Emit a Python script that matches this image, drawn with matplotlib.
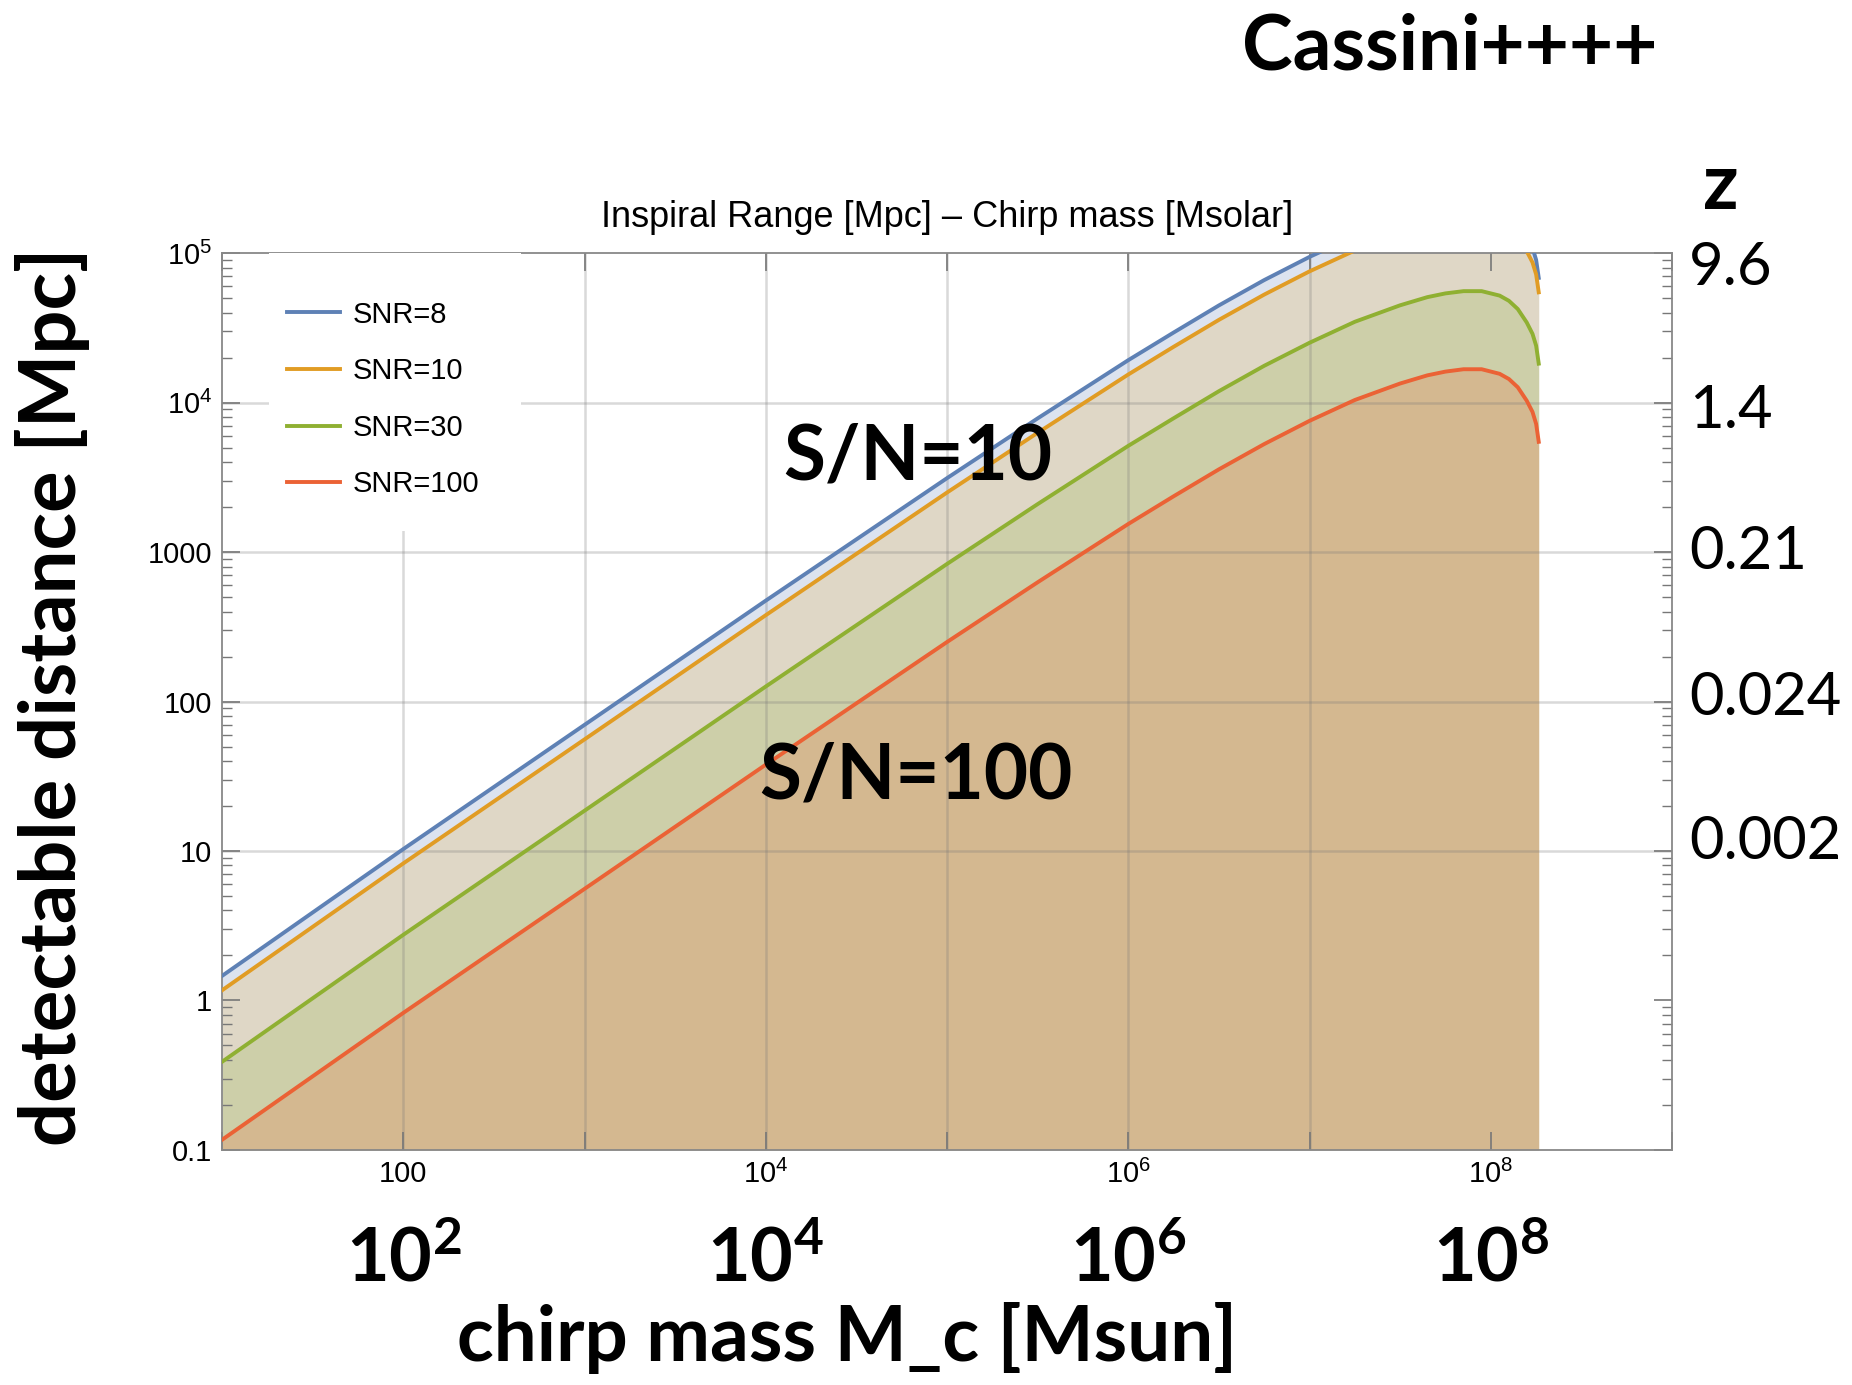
import numpy as np
import matplotlib
matplotlib.use('Agg')
import matplotlib.pyplot as plt
from matplotlib.patches import Rectangle

plt.rcParams['font.family'] = ['Liberation Sans', 'DejaVu Sans']
plt.rcParams['mathtext.fontset'] = 'custom'
plt.rcParams['mathtext.sf'] = 'Liberation Sans'
plt.rcParams['mathtext.bf'] = 'Lato:bold'

# chirp mass [Msun] and read-off inspiral range [Mpc] per SNR
mass = [10, 100, 1e3, 1e4, 1e5, 3.16e5, 1e6, 1.78e6, 3.16e6, 5.62e6, 1e7, 1.78e7,
        3.16e7, 4.47e7, 5.62e7, 7.08e7, 8.91e7, 1.12e8, 1.26e8, 1.41e8, 1.58e8,
        1.70e8, 1.78e8, 1.84e8]
snr8 = [1.46, 10.3, 69.8, 473, 3120, 7830, 19200, 29400, 44600, 65900, 94200, 130000,
        167500, 190000, 201400, 208500, 208500, 194600, 179500, 158100, 128500,
        108200, 90000, 68200]
snr10 = [1.17, 8.26, 55.8, 378, 2500, 6270, 15400, 23600, 35700, 52700, 75400, 104000,
         134000, 152000, 161000, 166800, 166800, 155600, 143600, 126500, 102800,
         86500, 72000, 54600]
snr30 = [0.389, 2.75, 18.6, 126, 832, 2090, 5130, 7850, 11900, 17600, 25100, 34700,
         44700, 50700, 53700, 55600, 55600, 51900, 47900, 42200, 34300,
         28800, 24000, 18200]
snr100 = [0.117, 0.826, 5.58, 37.8, 250, 627, 1540, 2360, 3570, 5270, 7540, 10400,
          13400, 15200, 16100, 16700, 16700, 15560, 14360, 12650, 10280,
          8650, 7200, 5460]

labels = ['SNR=8', 'SNR=10', 'SNR=30', 'SNR=100']
line_colors = ['#5E81B5', '#E19C24', '#8FB032', '#EB6235']
band_colors = ['#dce3ef', '#dfd7c6', '#cdcfa9', '#d4b890']

z_dist = [1e5, 1e4, 1e3, 100, 10]
z_labels = ['9.6', '1.4', '0.21', '0.024', '0.002']

big_ticks = [1e2, 1e4, 1e6, 1e8]
big_tick_labels = [r'$\mathbf{10^{2}}$', r'$\mathbf{10^{4}}$', r'$\mathbf{10^{6}}$', r'$\mathbf{10^{8}}$']

fig = plt.figure(figsize=(18.52, 13.85), dpi=100)
ax = fig.add_axes([0.1199, 0.1697, 0.7829, 0.6476])
ax.set_xscale('log')
ax.set_yscale('log')
ax.set_xlim(10, 1e9)
ax.set_ylim(0.1, 1e5)

curves = [snr8, snr10, snr30, snr100]
for i, c in enumerate(curves):
    lower = curves[i + 1] if i < 3 else [0.1] * len(mass)
    ax.fill_between(mass, lower, c, color=band_colors[i], linewidth=0, zorder=1)

# grid on top of fills, a bit transparent
for xv in [1e2, 1e3, 1e4, 1e5, 1e6, 1e7]:
    ax.axvline(xv, color='#777777', alpha=0.28, lw=1.8, zorder=2)
for yv in [10, 100, 1000, 1e4]:
    ax.axhline(yv, color='#777777', alpha=0.28, lw=1.8, zorder=2)

# white box behind legend
ax.add_patch(Rectangle((0.0324, 0.69), 0.174, 0.31, transform=ax.transAxes,
                       facecolor='white', edgecolor='none', zorder=3))

for c, lab, col in zip(curves, labels, line_colors):
    ax.plot(mass, c, color=col, lw=2.8, label=lab, zorder=4)

leg = ax.legend(loc='upper left', bbox_to_anchor=(0.0448, 0.947), frameon=False,
                fontsize=21, handlelength=1.8, handletextpad=0.45, labelspacing=0.98,
                borderaxespad=0, borderpad=0)
leg.set_zorder(5)

# ticks
ax.set_xticks([10 ** k for k in range(1, 10)])
ax.set_xticklabels(['', '100', '', r'$\mathsf{10^{4}}$', '', r'$\mathsf{10^{6}}$', '',
                    r'$\mathsf{10^{8}}$', ''])
ax.xaxis.set_minor_locator(matplotlib.ticker.NullLocator())
ax.set_yticks([0.1, 1, 10, 100, 1000, 1e4, 1e5])
ax.set_yticklabels(['0.1', '1', '10', '100', '1000', r'$\mathsf{10^{4}}$', r'$\mathsf{10^{5}}$'])
ax.yaxis.set_minor_locator(matplotlib.ticker.LogLocator(base=10, subs=np.arange(2, 10)))
ax.yaxis.set_minor_formatter(matplotlib.ticker.NullFormatter())
ax.tick_params(which='both', direction='in', top=True, right=True, color='#777777',
               labelsize=21, labelcolor='black')
ax.tick_params(which='major', length=13, width=1.2, pad=7)
ax.tick_params(which='minor', length=7, width=1.0)
for s in ax.spines.values():
    s.set_color('#888888')
    s.set_linewidth(1.3)

ax.set_title('Inspiral Range [Mpc] \u2013 Chirp mass [Msolar]', fontsize=26, pad=19)

# slide overlays
bold = dict(family=['Lato', 'DejaVu Sans'], fontweight='bold')
fig.text(0.783, 0.966, 'Cassini++++', fontsize=55, ha='center', va='center', **bold)
fig.text(0.9293, 0.865, 'z', fontsize=56, ha='center', va='center', **bold)
z_shift = [-15, -8, 0, 4, 9]
for d, zl, dy in zip(z_dist, z_labels, z_shift):
    ax.annotate(zl, (1.0117, d), xycoords=ax.get_yaxis_transform(),
                xytext=(0, dy * 0.72), textcoords='offset points', fontsize=43,
                ha='left', va='center', family=['Lato', 'DejaVu Sans'], fontweight='normal')
for xv, tl in zip(big_ticks, big_tick_labels):
    ax.text(xv, -0.125, tl, transform=ax.get_xaxis_transform(), fontsize=53,
            ha='center', va='center')
fig.text(0.4573, 0.017, 'chirp mass M_c [Msun]', fontsize=55, ha='center', va='baseline', **bold)
fig.text(0.0286, 0.4968, 'detectable distance [Mpc]', fontsize=56, ha='center', va='center',
         rotation=90, **bold)
fig.text(0.4957, 0.670, 'S/N=10', fontsize=55, ha='center', va='center', **bold)
fig.text(0.4946, 0.4397, 'S/N=100', fontsize=55, ha='center', va='center', **bold)

fig.savefig('out.png', dpi=100)
